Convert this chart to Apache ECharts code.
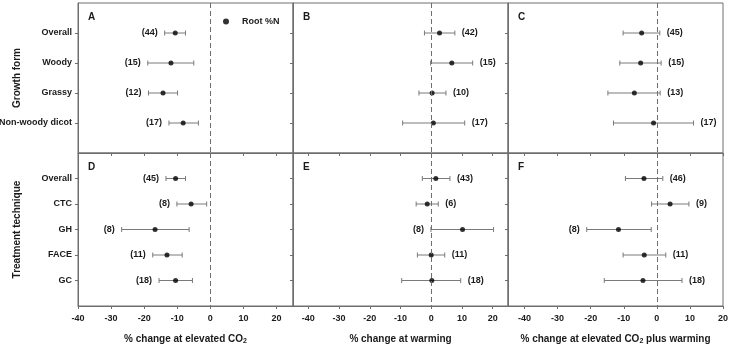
<!DOCTYPE html>
<html>
<head>
<meta charset="utf-8">
<script src="https://cdn.jsdelivr.net/npm/echarts@6/dist/echarts.min.js"></script>
<style>
  html, body { margin: 0; padding: 0; background: #fff; }
  #chart { width: 729px; height: 346px; }
</style>
</head>
<body>
<div id="chart"></div>
<script>
// categories
const growthForms = ['Overall', 'Woody', 'Grassy', 'Non-woody dicot'];
const techniques = ['Overall', 'CTC', 'GH', 'FACE', 'GC'];
const xTicks = [-40, -30, -20, -10, 0, 10, 20];

// A: elevated CO2, growth form
const meanA = [-10.6, -11.9, -14.3, -8.2];
const lowA  = [-13.8, -18.9, -18.7, -12.5];
const highA = [-7.5, -5.0, -9.9, -3.6];
const nA    = [44, 15, 12, 17];

// B: warming, growth form
const meanB = [2.7, 6.7, 0.3, 0.7];
const lowB  = [-2.2, -0.2, -4.0, -9.3];
const highB = [7.7, 13.5, 4.8, 10.9];
const nB    = [42, 15, 10, 17];

// C: elevated CO2 plus warming, growth form
const meanC = [-4.6, -4.9, -6.8, -1.0];
const lowC  = [-10.2, -11.2, -14.8, -13.1];
const highC = [0.9, 1.3, 1.0, 11.1];
const nC    = [45, 15, 13, 17];

// D: elevated CO2, treatment technique
const meanD = [-10.5, -5.8, -16.7, -13.1, -10.5];
const lowD  = [-13.4, -10.1, -26.8, -17.4, -15.5];
const highD = [-7.5, -1.1, -6.4, -8.5, -5.4];
const nD    = [45, 8, 8, 11, 18];

// E: warming, treatment technique
const meanE = [1.5, -1.3, 10.2, 0.0, 0.2];
const lowE  = [-2.9, -4.9, -0.1, -4.5, -9.6];
const highE = [6.1, 2.3, 20.3, 4.4, 9.6];
const nE    = [43, 6, 8, 11, 18];

// F: elevated CO2 plus warming, treatment technique
const meanF = [-3.9, 4.0, -11.6, -3.8, -4.2];
const lowF  = [-9.5, -1.6, -21.2, -10.2, -15.9];
const highF = [1.8, 9.7, -1.7, 2.7, 7.6];
const nF    = [46, 9, 8, 11, 18];

const FONT = '"Liberation Sans", Arial, sans-serif';
const INK = '#1a1a1a';
const AXIS = '#6e6e6e';
const BAR = '#7a7a7a';

// panel layout (letter, grid box, x range, categories, which rows get the n-label on the left)
const panels = [
  { key: 'A', left: 78,  top: 3,   width: 215, height: 150, min: -40, max: 25, cats: growthForms, mean: meanA, low: lowA, high: highA, n: nA, leftRows: [0, 1, 2, 3], yName: 'Growth form' },
  { key: 'B', left: 293, top: 3,   width: 215, height: 150, min: -45, max: 25, cats: growthForms, mean: meanB, low: lowB, high: highB, n: nB, leftRows: [] },
  { key: 'C', left: 508, top: 3,   width: 215, height: 150, min: -45, max: 20, cats: growthForms, mean: meanC, low: lowC, high: highC, n: nC, leftRows: [] },
  { key: 'D', left: 78,  top: 153, width: 215, height: 153, min: -40, max: 25, cats: techniques, mean: meanD, low: lowD, high: highD, n: nD, leftRows: [0, 1, 2, 3, 4], yName: 'Treatment technique', xName: '{t|% change at elevated CO}{s|2}' },
  { key: 'E', left: 293, top: 153, width: 215, height: 153, min: -45, max: 25, cats: techniques, mean: meanE, low: lowE, high: highE, n: nE, leftRows: [2], xName: '{t|% change at warming}' },
  { key: 'F', left: 508, top: 153, width: 215, height: 153, min: -45, max: 20, cats: techniques, mean: meanF, low: lowF, high: highF, n: nF, leftRows: [2], xName: '{t|% change at elevated CO}{s|2}{t| plus warming}' }
];

function renderErrorBar(params, api) {
  const y = api.value(0);
  const lo = api.coord([api.value(1), y]);
  const hi = api.coord([api.value(2), y]);
  const n = api.value(3);
  const onLeft = api.value(4) === 1;
  const cap = 2.5;
  const style = { stroke: BAR, lineWidth: 1 };
  return {
    type: 'group',
    children: [
      { type: 'line', shape: { x1: lo[0], y1: lo[1], x2: hi[0], y2: hi[1] }, style: style },
      { type: 'line', shape: { x1: lo[0], y1: lo[1] - cap, x2: lo[0], y2: lo[1] + cap }, style: style },
      { type: 'line', shape: { x1: hi[0], y1: hi[1] - cap, x2: hi[0], y2: hi[1] + cap }, style: style },
      {
        type: 'text',
        x: onLeft ? lo[0] - 7 : hi[0] + 7,
        y: lo[1],
        style: {
          text: '(' + n + ')',
          align: onLeft ? 'right' : 'left',
          verticalAlign: 'middle',
          fontFamily: FONT, fontWeight: 'bold', fontSize: 9,
          fill: INK
        }
      }
    ]
  };
}

const grid = [], xAxis = [], yAxis = [], series = [], title = [];

panels.forEach((p, k) => {
  const isBottom = k >= 3;
  const rowVals = p.cats.map((c, i) => i + 1);

  grid.push({
    left: p.left, top: p.top, width: p.width, height: p.height,
    show: true, borderColor: AXIS, borderWidth: 1,
    containLabel: false, outerBoundsMode: 'none'
  });

  xAxis.push({
    gridIndex: k, type: 'value', min: p.min, max: p.max,
    axisLine: { show: true, onZero: false, lineStyle: { color: AXIS, width: 1 } },
    axisTick: { show: true, length: 3, customValues: xTicks, lineStyle: { color: AXIS } },
    axisLabel: {
      show: isBottom, customValues: xTicks, margin: 8,
      color: INK, fontFamily: FONT, fontWeight: 'bold', fontSize: 9
    },
    splitLine: { show: false },
    name: p.xName || '',
    nameLocation: 'middle', nameGap: 26, nameMoveOverlap: false,
    nameTextStyle: {
      color: INK, fontFamily: FONT, fontWeight: 'bold', fontSize: 10,
      rich: {
        t: { color: INK, fontFamily: FONT, fontWeight: 'bold', fontSize: 10, lineHeight: 14 },
        s: { color: INK, fontFamily: FONT, fontWeight: 'bold', fontSize: 7, lineHeight: 14, padding: [5, 0, 0, 0] }
      }
    }
  });

  yAxis.push({
    gridIndex: k, type: 'value', min: 0, max: p.cats.length + 1, inverse: true,
    axisLine: { show: true, onZero: false, lineStyle: { color: AXIS, width: 1 } },
    axisTick: { show: true, length: 3, customValues: rowVals, lineStyle: { color: AXIS } },
    axisLabel: {
      show: k % 3 === 0, customValues: rowVals, margin: 6,
      formatter: v => p.cats[v - 1] || '',
      color: INK, fontFamily: FONT, fontWeight: 'bold', fontSize: 9
    },
    splitLine: { show: false },
    name: p.yName || '',
    nameLocation: 'middle', nameRotate: 90, nameGap: 56, nameMoveOverlap: false,
    nameTextStyle: { color: INK, fontFamily: FONT, fontWeight: 'bold', fontSize: 10 }
  });

  series.push({
    type: 'custom',
    xAxisIndex: k, yAxisIndex: k,
    renderItem: renderErrorBar,
    encode: { x: [1, 2], y: 0 },
    silent: true,
    z: 2,
    data: p.cats.map((c, i) => [i + 1, p.low[i], p.high[i], p.n[i], p.leftRows.indexOf(i) >= 0 ? 1 : 0])
  });

  series.push({
    name: 'Root %N',
    type: 'scatter',
    xAxisIndex: k, yAxisIndex: k,
    symbol: 'circle', symbolSize: 5,
    itemStyle: { color: '#000' },
    z: 3,
    data: p.mean.map((m, i) => [m, i + 1]),
    markLine: {
      silent: true, symbol: ['none', 'none'],
      label: { show: false },
      lineStyle: { color: AXIS, type: [5, 3], width: 1 },
      data: [{ xAxis: 0 }]
    }
  });

  title.push({
    text: p.key, left: p.left + 5, top: p.top + 4,
    textStyle: { color: INK, fontFamily: FONT, fontWeight: 'bold', fontSize: 10 }
  });
});

const chart = echarts.init(document.getElementById('chart'), null, { renderer: 'canvas' });
chart.setOption({
  animation: false,
  backgroundColor: '#fff',
  title: title,
  legend: {
    data: ['Root %N'],
    left: 218, top: 12,
    icon: 'circle', itemWidth: 6, itemHeight: 6,
    textStyle: { color: INK, fontFamily: FONT, fontWeight: 'bold', fontSize: 9, padding: [0, 0, 0, 8] },
    selectedMode: false
  },
  grid: grid,
  xAxis: xAxis,
  yAxis: yAxis,
  series: series
});
</script>
</body>
</html>
